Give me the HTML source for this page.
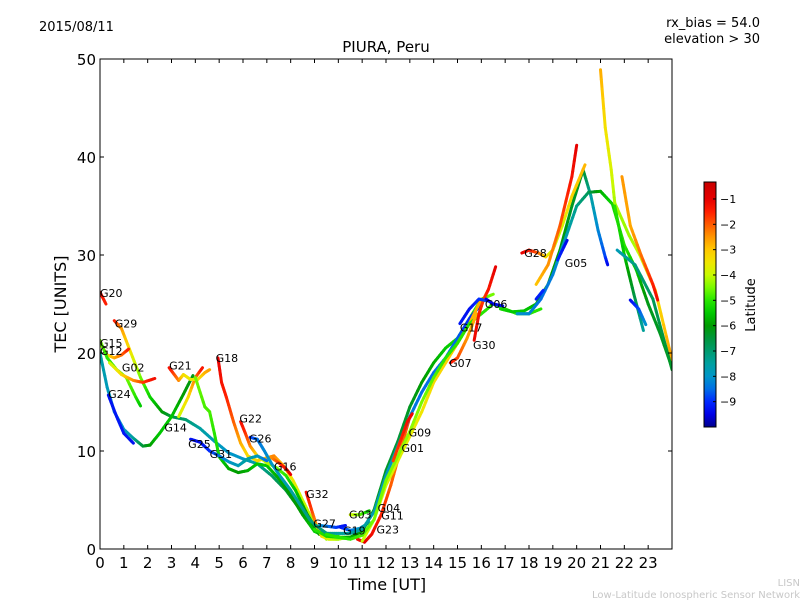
<!DOCTYPE html>
<html><head><meta charset="utf-8"><style>
body{margin:0;background:#fff;}
svg{display:block;font-family:"DejaVu Sans","Liberation Sans",sans-serif;}
</style></head><body>
<svg id="chart" width="800" height="600" viewBox="0 0 800 600">
<rect width="800" height="600" fill="#fff"/>
<text x="39" y="31" font-size="13">2015/08/11</text>
<text x="760" y="27" font-size="13" text-anchor="end">rx_bias = 54.0</text>
<text x="760" y="43" font-size="13" text-anchor="end">elevation &gt; 30</text>
<text x="386" y="52" font-size="15" text-anchor="middle">PIURA, Peru</text>
<g id="tracks"></g>
<g id="labels"></g>
<g id="axes"></g>
<text x="387" y="590" font-size="16" text-anchor="middle">Time [UT]</text>
<text x="66" y="304" font-size="16" text-anchor="middle" transform="rotate(-90 66 304)">TEC [UNITS]</text>
<defs><linearGradient id="jet" x1="0" y1="1" x2="0" y2="0"></linearGradient></defs>
<g id="cbar"></g>
<text x="755" y="305" font-size="13" text-anchor="middle" transform="rotate(-90 755 305)">Latitude</text>
<text x="800" y="586" font-size="10" fill="#c8c8c8" text-anchor="end">LISN</text>
<text x="800" y="598" font-size="10" fill="#c8c8c8" text-anchor="end">Low-Latitude Ionospheric Sensor Network</text>
</svg>
<script>
const xTicks=[0,1,2,3,4,5,6,7,8,9,10,11,12,13,14,15,16,17,18,19,20,21,22,23];
const yTicks=[0,10,20,30,40,50];
const cbTicks=[-1,-2,-3,-4,-5,-6,-7,-8,-9];
const trackNames=["G20","G29","G12","G15","G02","G14","G24","G21a","G21","G31","G18","G22","G26","G25","G16","G32","G27","G19","G03","G23","G04","G01b","G01","G11","G09","G07","G30","G17","G06","H1","H2","G28","G28b","G05","G05b","R1","R2","R3","R4","R5"];
const trackTimes=[
[0,0.25],
[0.6,0.9,1.3,1.7,2.1,2.6,3.0,3.6,4.2,4.8,5.4,6.0,6.6,7.2,7.8,8.4,9.0,9.5],
[0,0.3,0.6,0.9,1.2],
[0,0.3,0.7,1.1,1.5,1.7],
[0.4,0.9,1.4,1.8,2.3],
[0,0.3,0.6,1.0,1.4,1.8,2.1,2.5,3.0,3.5,3.9],
[0.35,0.7,1.0,1.4],
[3.3,3.7,4.0,4.3],
[2.9,3.3,3.5,3.8,4.1,4.4,4.6],
[4.0,4.4,4.6,4.8,5.0,5.4,5.8,6.2,6.6,7.0,7.5,8.0,8.5,9.0,9.5,10.0],
[4.95,5.1,5.3,5.6,5.9,6.2,6.6,7.0,7.3,7.7,8.1,8.5,9.0,9.5],
[5.9,6.1,6.3,6.6,7.0,7.4,7.8,8.2,8.7,9.2],
[6.3,6.6,6.9,7.2,7.6,8.0,8.4,8.8,9.2,9.6],
[3.8,4.2,4.6,5.0,5.4,5.8,6.2,6.6,7.0],
[7.2,7.5,7.8,8.0],
[8.65,8.9,9.1,9.3,9.6,10,10.4,10.8],
[9.2,9.6,9.9,10.3],
[10.1,10.5,10.9,11.3],
[10.5,10.9,11.3],
[10.8,11.1,11.4,11.8,12.2,12.6,13.0],
[9,9.5,10,10.5,11,11.5,12,12.5,13,13.5,14,14.5,15,15.5,16,16.5],
[9,9.5,10,10.5,11,11.5,12,12.5,13,13.5,14,14.5,15,15.5,16],
[11,11.5,12,12.5,13,13.5,14,14.5,15,15.5,16],
[9.5,10,10.5,11,11.5,12,12.5,13,13.5,14,14.5,15,15.5,16.5,17,17.5,18,18.5],
[12.3,12.6,12.9,13.1],
[14.7,15,15.4,15.8],
[15.7,15.9,16.1,16.3,16.6],
[15.1,15.5,15.9,16.3],
[16.2,16.5,16.9],
[16.8,17.3,17.8,18.3,18.8,19.3,19.8,20.27,20.6,20.9,21.2,21.3],
[17.5,18,18.5,19,19.5,20,20.5,21,21.5,22,22.5,23,23.5,24],
[17.7,18,18.4,18.7,19,19.4,19.8,20.35],
[18.3,18.8,19.3,19.8,20.0],
[19.2,19.6],
[18.3,18.6],
[21,21.2,21.45,21.6,22.2,22.65,23.3,24],
[21.9,22.25,22.7,23.2,23.4],
[21.6,22.0,22.4,22.8],
[21.7,22.45,23.2,24],
[22.25,22.6,22.9]];
const trackTec=[
[26.2,25],
[23.3,22.5,20,17.5,15.5,14,13.5,13.2,12.3,11,9.8,9.2,8.7,7.5,6,4,2,1.2],
[21,19.8,19.5,19.8,20.4],
[21.3,19.5,18.3,17.5,15.5,14.6],
[19,17.8,17.2,17,17.4],
[20,16.5,14,12.2,11.3,10.5,10.6,11.8,13.5,15.8,17.7],
[15.7,13.5,11.8,10.8],
[13.5,15.5,17.5,18.5],
[18.5,17.2,17.8,17.3,17.3,18,18.3],
[17.5,14.5,14,11.8,9.4,8.2,7.8,8,8.7,8.5,7.2,5.5,3.5,1.8,1.2,1.3],
[19.5,17,15.5,13,10.8,9.5,9,9.3,9.5,8.5,7,5,2.5,1],
[13,11.8,10.5,9.5,8.8,8.3,7.5,6,3.5,1.5],
[11.4,11.2,10,8.7,7.3,6,4.5,3,2,1.5],
[11.2,10.9,10,9.5,8.9,8.5,9.2,9.5,9.0],
[9.3,8.8,8.2,7.6],
[5.8,3.8,2.3,1.3,1,1,1.2,1.3],
[2.4,2.3,2.2,2.4],
[2.2,1.9,2.1,2.7],
[3.5,3.5,3.9],
[1,0.7,1.5,3.5,6.5,10,13.5],
[2,1.3,1.2,1.2,1.8,4,8,11,14.5,17,19,20.5,21.5,23.5,25.5,26],
[2.5,1.6,1.6,1.6,2,3.8,7.5,10.5,13.5,16,18,19.5,21.5,23.5,25],
[0.8,3,6.5,9,11.5,14,17,19,21,23,25.5],
[1.5,1.2,1,1.4,3,7,9.5,12,15,17.5,19.5,21,23,25,24.5,24,24,24.5],
[9,11,13,13.8],
[19,19.5,21.5,24],
[21.3,24,25.5,26.5,28.8],
[23,24.5,25.5,25.3],
[25.5,25,24.8],
[24.5,24.2,24.3,25,27,30.5,35,38.7,36,32.5,29.8,29],
[24,24,25.5,28,31.5,35,36.4,36.5,35.2,31,28.5,25,22,18.5],
[30.2,30.5,30.2,29.8,30.5,33,36,39.2],
[27,29,33,38,41.2],
[29.5,31.5],
[25.5,26.4],
[48.9,43,38.7,35.3,32,30,26.4,19.3],
[38,33,30,27,25.4],
[35,30,26,22.3],
[30.5,29,25.5,18.3],
[25.4,24.5,22.9]];
const trackLat=[
[-1.2,-1.5],
[-1.3,-2.5,-3.5,-4.5,-5.3,-6,-6.5,-7,-7.5,-7.8,-8,-8,-7.5,-7,-6.5,-6,-5,-4.5],
[-4,-3.3,-2.8,-2.2,-1.5],
[-4.5,-5,-4.8,-4.5,-5,-5.5],
[-4,-3.3,-2.5,-1.8,-1.2],
[-7.5,-7.8,-8,-8,-7.5,-6.5,-6,-5.5,-5.5,-6,-6.2],
[-9.3,-9.2,-9.2,-9.3],
[-4,-3.3,-2.3,-1.3],
[-1.2,-2.3,-3.3,-3.6,-3.6,-2.8,-2.6],
[-4.5,-4.8,-4.8,-5,-5.3,-5.8,-6,-5.8,-5.5,-5.5,-5.8,-6,-6,-5.5,-5,-5],
[-1,-1.3,-1.5,-2,-2.7,-3.3,-3.3,-2.8,-2.3,-3,-3.5,-4,-4.2,-4.3],
[-1.2,-1.6,-2.3,-3.2,-4,-4.5,-5,-5.5,-6,-6],
[-9,-8.5,-8.2,-8,-7.8,-7.6,-7.4,-7.2,-7,-7],
[-9.3,-9.3,-9,-8.5,-8,-7.8,-7.5,-7.8,-8.5],
[-2.5,-1.8,-1.3,-1],
[-1.2,-1.8,-2.6,-3.3,-3.8,-4.2,-4.4,-4.5],
[-8,-8.5,-8.8,-9.3],
[-9.3,-8.5,-8,-7.5],
[-3.8,-4.5,-5.5],
[-1.3,-1,-1.2,-1.5,-2,-2.3,-1.8],
[-5,-5.2,-5.5,-5.8,-6,-6.2,-6.3,-6.5,-6.3,-6,-5.8,-5.5,-5.2,-5,-4.8,-4.5],
[-7,-7.2,-7.5,-7.5,-7.5,-7.7,-7.8,-8,-8.3,-8.5,-8.5,-8.3,-8.6,-9,-9.2],
[-4,-4,-3.8,-3.8,-3.6,-3.5,-3.3,-3.2,-3,-2.8,-2.7],
[-5,-5,-5,-4.8,-4.5,-4.5,-4.4,-4.3,-4.5,-4.7,-5,-5,-5,-5,-5,-5,-5,-5],
[-1.8,-1.6,-1.3,-1.1],
[-1.2,-1.8,-2.5,-2.8],
[-1.1,-1.3,-1.8,-1.4,-1],
[-9.2,-9.3,-9,-8.7],
[-9.5,-9.4,-9.3],
[-5.2,-5.5,-5.5,-5.7,-6,-6,-6.3,-6.3,-7.5,-8.2,-8.8,-9.4],
[-8,-8.2,-8.5,-8.3,-7.8,-7.3,-6.8,-5.8,-5.3,-5,-5.5,-6.2,-6.3,-6],
[-1,-1.3,-2,-3.2,-4,-3.8,-3.2,-2.8],
[-3,-2.5,-2,-1.3,-1],
[-9,-9.4],
[-9.2,-9],
[-2.7,-3.4,-3.8,-4.2,-4.3,-4,-3.4,-2.6],
[-2.5,-2.7,-2.2,-1.5,-1.2],
[-5,-5.5,-6.5,-7.5],
[-7.8,-7.2,-6.8,-6.3],
[-9.4,-8.8,-8]];
const labelNames=["G20","G29","G15","G12","G02","G24","G21","G18","G14","G22","G26","G25","G31","G16","G32","G27","G19","G03","G04","G11","G23","G01","G09","G07","G30","G17","G06","G28","G05"];
const labelT=[0,0.62,0,0,0.92,0.34,2.9,4.85,2.7,5.85,6.25,3.7,4.6,7.3,8.65,8.95,10.2,10.45,11.65,11.8,11.6,12.65,12.95,14.65,15.65,15.1,16.15,17.8,19.5];
const labelTec=[26.1,23.0,21.0,20.2,18.5,15.8,18.7,19.5,12.4,13.3,11.3,10.7,9.7,8.4,5.6,2.6,1.9,3.5,4.2,3.4,2.0,10.3,11.9,19.0,20.8,22.6,25.0,30.2,29.2];
const NS="http://www.w3.org/2000/svg";
const L=100,R=672,T=59,B=549,LATMIN=-10,LATMAX=-0.33;
const cmapLat=[-10,-9.5,-9,-8.5,-8,-7.5,-7,-6.5,-6,-5.5,-5,-4.5,-4,-3.5,-3,-2.5,-2,-1.5,-1,-0.33];
const cmapCol=[[0,0,140],[0,0,230],[0,40,255],[0,110,230],[0,150,200],[0,160,160],[0,155,110],[0,150,60],[0,155,0],[0,200,0],[40,230,0],[120,250,0],[200,250,0],[240,230,0],[255,200,0],[255,150,0],[255,90,0],[255,30,0],[230,0,0],[200,0,0]];
function jet(lat){
 lat=Math.max(LATMIN,Math.min(LATMAX,lat));
 let i=0;while(i<cmapLat.length-2&&lat>cmapLat[i+1])i++;
 const f=(lat-cmapLat[i])/(cmapLat[i+1]-cmapLat[i]);
 const c=cmapCol[i].map((v,k)=>Math.round(v+(cmapCol[i+1][k]-v)*f));
 return `rgb(${c[0]},${c[1]},${c[2]})`;
}
function xs(t){return L+(t/24)*(R-L);}
function ys(v){return B-(v/50)*(B-T);}
const svg=document.getElementById('chart');
const grad=document.getElementById('jet');
cmapLat.forEach((la,i)=>{const s=document.createElementNS(NS,'stop');s.setAttribute('offset',(la-LATMIN)/(LATMAX-LATMIN));s.setAttribute('stop-color',jet(la));grad.appendChild(s);});
const tg=document.getElementById('tracks');
const clip=document.createElementNS(NS,'clipPath');clip.setAttribute('id','pc');
const cr=document.createElementNS(NS,'rect');cr.setAttribute('x',L);cr.setAttribute('y',T);cr.setAttribute('width',R-L);cr.setAttribute('height',B-T);
clip.appendChild(cr);svg.appendChild(clip);
tg.setAttribute('clip-path','url(#pc)');
trackTimes.forEach((ts,k)=>{
 const g=document.createElementNS(NS,'g');
 
 
 for(let i=0;i<ts.length-1;i++){
  const n=6;
  for(let j=0;j<n;j++){
   const a=j/n,b=(j+1)/n;
   const t0=ts[i]+(ts[i+1]-ts[i])*a,t1=ts[i]+(ts[i+1]-ts[i])*b;
   const v0=trackTec[k][i]+(trackTec[k][i+1]-trackTec[k][i])*a,v1=trackTec[k][i]+(trackTec[k][i+1]-trackTec[k][i])*b;
   const la=trackLat[k][i]+(trackLat[k][i+1]-trackLat[k][i])*(a+b)/2;
   const ln=document.createElementNS(NS,'line');
   
   
   ln.setAttribute('x1',xs(t0));ln.setAttribute('y1',ys(v0));ln.setAttribute('x2',xs(t1));ln.setAttribute('y2',ys(v1));
   ln.setAttribute('stroke',jet(la));ln.setAttribute('stroke-width','3');ln.setAttribute('stroke-linecap','round');
   g.appendChild(ln);
  }
 }
 tg.appendChild(g);
});
const lg=document.getElementById('labels');
labelNames.forEach((nm,i)=>{
 const tx=document.createElementNS(NS,'text');
 
 
 tx.setAttribute('x',xs(labelT[i]));tx.setAttribute('y',ys(labelTec[i])+4);
 tx.setAttribute('font-size','11');tx.textContent=nm;lg.appendChild(tx);
});
const ax=document.getElementById('axes');
const fr=document.createElementNS(NS,'rect');


fr.setAttribute('x',L);fr.setAttribute('y',T);fr.setAttribute('width',R-L);fr.setAttribute('height',B-T);
fr.setAttribute('fill','none');fr.setAttribute('stroke','#000');fr.setAttribute('stroke-width','1');ax.appendChild(fr);
function mk(tag,attrs,name){const e=document.createElementNS(NS,tag);for(const k in attrs)e.setAttribute(k,attrs[k]);
 
 
 ax.appendChild(e);return e;}
xTicks.forEach(t=>{
 const x=xs(t);
 mk('line',{x1:x,y1:B,x2:x,y2:B-4,stroke:'#000'},'x-tick');
 mk('line',{x1:x,y1:T,x2:x,y2:T+4,stroke:'#000'},'x-tick-top');
 const tx=mk('text',{x:x,y:B+19,'font-size':'15','text-anchor':'middle'},'x-tick-label');tx.textContent=t;
});
yTicks.forEach(v=>{
 const y=ys(v);
 mk('line',{x1:L,y1:y,x2:L+4,y2:y,stroke:'#000'},'y-tick');
 mk('line',{x1:R,y1:y,x2:R-4,y2:y,stroke:'#000'},'y-tick-right');
 const tx=mk('text',{x:L-4,y:y+6,'font-size':'15','text-anchor':'end'},'y-tick-label');tx.textContent=v;
});
const cb=document.getElementById('cbar');
const cT=182,cB=427,cL=704,cW=12;
const cbr=document.createElementNS(NS,'rect');


cbr.setAttribute('x',cL);cbr.setAttribute('y',cT);cbr.setAttribute('width',cW);cbr.setAttribute('height',cB-cT);
cbr.setAttribute('fill','url(#jet)');cbr.setAttribute('stroke','#000');cb.appendChild(cbr);
cbTicks.forEach(v=>{
 const y=cB-(v-LATMIN)/(LATMAX-LATMIN)*(cB-cT);
 const l=document.createElementNS(NS,'line');
 
 
 l.setAttribute('x1',cL+cW-3);l.setAttribute('x2',cL+cW);l.setAttribute('y1',y);l.setAttribute('y2',y);l.setAttribute('stroke','#000');cb.appendChild(l);
 const tx=document.createElementNS(NS,'text');
 
 
 tx.setAttribute('x',cL+cW+4);tx.setAttribute('y',y+4);tx.setAttribute('font-size','11');tx.textContent='\u2212'+Math.abs(v);cb.appendChild(tx);
});
</script>
</body></html>
